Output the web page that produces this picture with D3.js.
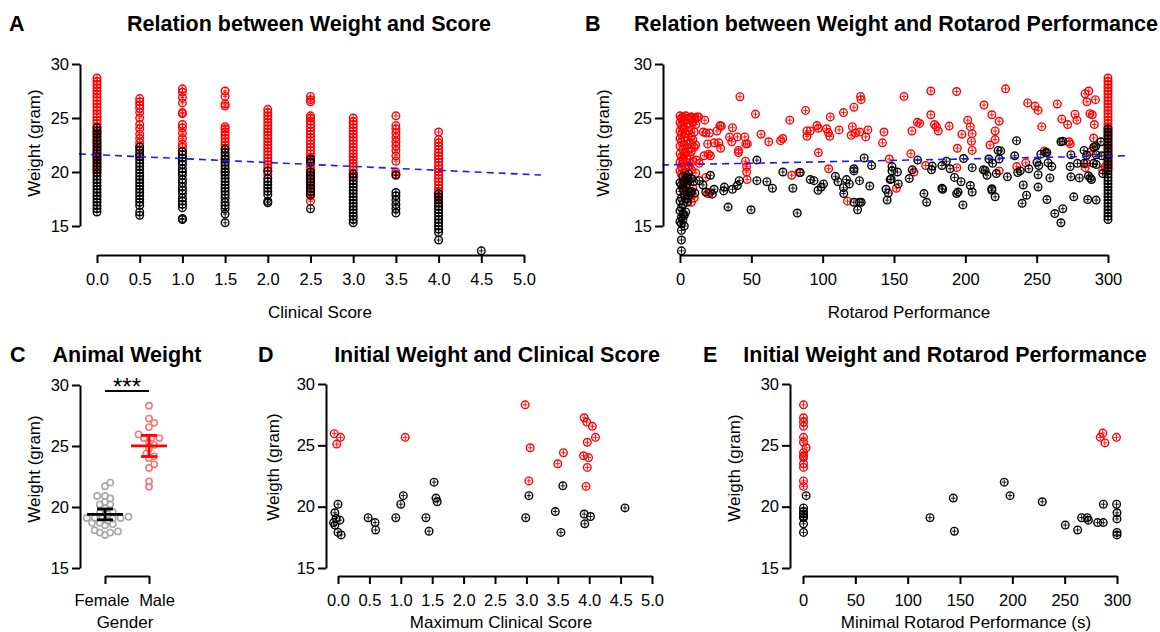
<!DOCTYPE html>
<html>
<head>
<meta charset="utf-8">
<script src="https://cdn.jsdelivr.net/npm/d3@7"></script>
<style>
  body { margin: 0; background: #fff; }
  svg { display: block; }
</style>
</head>
<body>
<div id="chart"></div>
<script>
// Datos
const FONT = '"Liberation Sans", Arial, Helvetica, sans-serif';
const RED = "#ff0000";
const BLACK = "#000000";

// Panel A: peso por puntuacion clinica (hembras negro, machos rojo)
const scoreLevels = [0, 0.5, 1, 1.5, 2, 2.5, 3, 3.5, 4, 4.5];
const scoreRedWeights = [
    [28.7, 28.4, 28.1, 27.8, 27.5, 27.2, 26.9, 26.6, 26.3, 26.0, 25.7, 25.4, 25.1, 24.8, 24.5, 24.2, 23.9, 23.6, 23.3, 23.0, 22.7, 22.4, 22.1, 21.8, 21.5, 21.2, 20.9, 20.6, 20.3, 20.0],
    [26.8, 26.5, 26.2, 25.9, 25.5, 25.0, 24.4, 24.0, 23.5, 23.1, 22.7, 22.4, 21.5],
    [27.7, 27.4, 26.9, 26.4, 25.5, 25.4, 24.4, 24.1, 23.6, 23.1, 22.6, 22.3, 21.9],
    [27.5, 27.0, 26.3, 26.1, 24.2, 24.0, 23.7, 23.4, 23.1, 22.8, 22.5, 22.2, 21.2, 20.0],
    [25.8, 25.5, 25.2, 24.9, 24.6, 24.3, 24.0, 23.7, 23.4, 23.1, 22.8, 22.5, 22.2, 21.9, 21.6, 21.3, 21.0, 20.7, 20.4, 20.1, 19.8],
    [27.0, 26.7, 26.5, 25.2, 25.0, 24.7, 24.4, 24.1, 23.8, 23.5, 23.2, 22.9, 22.6, 22.3, 22.0, 21.7, 21.4, 21.1, 20.8, 20.5, 20.2, 19.9, 19.6, 19.3, 19.0, 18.7, 18.4, 18.1, 17.8, 17.3],
    [25.0, 24.7, 24.4, 24.1, 23.8, 23.5, 23.2, 22.9, 22.6, 22.3, 22.0, 21.7, 21.4, 21.1, 20.8, 20.5, 20.2, 19.9, 19.6],
    [25.2, 24.3, 24.0, 23.6, 23.2, 22.8, 22.4, 22.0, 21.5, 21.0, 20.0, 19.8],
    [23.7, 23.0, 22.7, 22.4, 22.1, 21.8, 21.5, 21.2, 20.9, 20.6, 20.3, 20.0, 19.7, 19.4, 19.1, 18.8, 18.5, 18.2, 17.9, 17.6, 17.2, 16.8],
    []
];
const scoreBlackWeights = [
    [24.1, 23.8, 23.5, 23.2, 22.9, 22.6, 22.3, 22.0, 21.7, 21.4, 21.1, 20.8, 20.5, 20.2, 19.9, 19.6, 19.3, 19.0, 18.7, 18.4, 18.1, 17.8, 17.5, 17.2, 16.9, 16.6, 16.3],
    [22.3, 22.0, 21.7, 21.4, 21.1, 20.8, 20.5, 20.2, 19.9, 19.6, 19.3, 19.0, 18.7, 18.4, 18.1, 17.8, 17.5, 17.2, 16.9, 16.3, 16.0],
    [21.9, 21.6, 21.3, 21.0, 20.7, 20.3, 20.0, 19.7, 19.3, 19.0, 18.6, 18.3, 18.0, 17.6, 17.3, 17.0, 16.7, 15.7, 15.6],
    [22.1, 21.8, 21.5, 21.2, 20.9, 20.6, 20.3, 20.0, 19.7, 19.4, 19.1, 18.8, 18.5, 18.2, 17.9, 17.6, 17.2, 16.9, 16.6, 16.1, 15.3],
    [20.1, 19.4, 19.1, 18.8, 18.5, 18.2, 17.9, 17.3, 17.15],
    [21.2, 20.9, 20.0, 19.7, 19.4, 19.1, 18.8, 18.5, 18.2, 17.9, 16.6],
    [19.8, 19.5, 19.2, 18.9, 18.6, 18.3, 18.0, 17.7, 17.4, 17.1, 16.8, 16.5, 16.2, 15.9, 15.6, 15.3],
    [19.7, 18.1, 17.8, 17.4, 17.0, 16.6, 16.2],
    [18.0, 17.7, 17.4, 17.1, 16.8, 16.5, 16.2, 15.9, 15.6, 15.3, 15.0, 14.7, 14.4, 13.7],
    [12.7]
];
const scoreFit = [21.6, -0.361];        // intercepto, pendiente
const scoreFitRange = [-0.21, 5.2];

// Panel B: peso frente a rotarod [segundos, gramos]
const rotarodRed = [
    [0, 25.2], [1, 25.0], [2, 25.1], [3, 24.9], [4, 25.2], [6, 25.0], [8, 25.1], [10, 24.9], [12, 25.1],
    [0, 24.6], [1, 24.3], [2, 24.7], [3, 24.0], [5, 24.5], [7, 24.2], [9, 24.6], [11, 24.4],
    [0, 23.8], [1, 23.5], [2, 23.9], [4, 23.6], [6, 23.8], [8, 23.3], [10, 23.7],
    [0, 23.1], [1, 22.8], [3, 23.2], [5, 22.9], [7, 22.6], [9, 23.0], [11, 22.5],
    [0, 22.4], [2, 22.1], [3, 22.5], [4, 21.8], [6, 22.2], [8, 21.9], [10, 22.3],
    [0, 21.7], [1, 21.4], [2, 21.1], [3, 21.6], [5, 21.2], [7, 21.5], [9, 21.0],
    [0, 20.9], [1, 20.5], [2, 20.8], [4, 20.3], [6, 20.6], [8, 20.2],
    [0, 20.1], [1, 19.8], [3, 19.9], [5, 19.6],
    [2, 19.2], [4, 18.8], [3, 18.3], [6, 18.0], [5, 17.5], [8, 17.2], [7, 17.8], [2, 18.6], [9, 18.5], [10, 17.6],
    [7.8, 25.1], [13, 25.1], [10.4, 25.0], [17.4, 24.8], [16.3, 23.7], [18.1, 23.6], [20.7, 23.6], [23.9, 22.7],
    [19.4, 22.6], [20, 21.65], [16.9, 21.5], [21.3, 21.5], [25.9, 23.8], [28, 24.3], [29, 24.25], [28.5, 22.2],
    [27.2, 22.7], [34.7, 23.25], [36.3, 22.8], [36.8, 24.1], [40.2, 23.25], [45.4, 23.25], [41, 22.0], [41, 21.8],
    [46.1, 22.6], [47.2, 22.6], [45.9, 21.0], [46.7, 20.5], [46.7, 20.0], [47, 19.3], [13.5, 20.8], [11.7, 21.1],
    [6.5, 20.5], [11.1, 19.9], [18.1, 19.5], [19.4, 18.0], [21, 18.1],
    [42, 26.97], [52.9, 25.36], [56.8, 23.5], [62.2, 22.8], [70.5, 22.9], [72, 23.1], [77, 24.8], [78.3, 19.7],
    [83.5, 19.95], [88, 25.7], [89, 23.8], [89, 23.3], [91.3, 23.8], [96, 24.3], [97, 24.05], [97, 21.8],
    [102.7, 24.0], [104, 23.65], [105, 23.3], [104.2, 20.3], [105.3, 25.1], [111.5, 23.9], [114.6, 25.5], [117.4, 17.3],
    [120.8, 24.2], [120, 23.4], [121.9, 26.0], [122.9, 23.6], [126, 23.7], [126.5, 27.0], [127, 26.7], [130.2, 23.25],
    [131.7, 23.9], [142, 22.7], [143, 23.7], [146.7, 21.2], [151.7, 18.5], [157, 27.0], [161.8, 21.7], [162.6, 23.8],
    [164, 20.0], [166.4, 24.6], [168, 24.5], [172.2, 20.6], [175.8, 27.5], [175.8, 25.3], [178.4, 24.4], [179.7, 24.2],
    [181, 23.8], [188.7, 24.25], [193.9, 27.45], [194.4, 22.2], [194, 20.4], [197.6, 23.5], [201.7, 24.8], [203.5, 24.2],
    [204.3, 22.85], [204.8, 23.55], [204.8, 22.0], [213.1, 26.2], [218.6, 25.3], [217.3, 22.5], [220.9, 23.8], [220.9, 23.0],
    [223.7, 24.7], [223.7, 20.1], [228.2, 27.7], [236, 20.5], [242.4, 20.85], [243.7, 26.4], [248.9, 26.1], [251, 25.7],
    [253.6, 24.2], [255.4, 21.95], [264.5, 26.3], [267.6, 24.9], [271.7, 24.4], [272.7, 22.8], [273.5, 22.6], [276.9, 25.35],
    [278.2, 24.8], [283.9, 27.25], [286.5, 27.5], [285.2, 26.5], [287.3, 25.4], [289, 25.3], [291.2, 26.7], [290.4, 24.4],
    [289.9, 23.15], [289.9, 22.3], [288, 21.9], [284, 20.4], [285, 20.8], [296.3, 20.2], [298, 20.5]
];
const rotarodBlack = [
    [1, 12.7], [1, 13.7], [1, 14.6], [3, 15.0], [0, 15.4], [1, 15.8], [2, 16.1], [0, 16.4], [1, 16.7], [2, 17.0],
    [0, 17.3], [1, 17.6], [3, 17.9], [0, 18.2], [2, 18.5], [1, 18.8], [3, 19.1], [5, 19.5], [6, 19.8], [4, 16.3],
    [5, 17.2], [6, 17.8], [7, 18.1], [8, 18.2], [4, 18.6], [6, 19.2], [3, 16.0], [2, 15.6], [1, 15.2], [4, 17.5],
    [0, 19.0], [2, 19.6], [8, 19.4], [5, 18.9],
    [9.6, 19.1], [10.4, 18.05], [13.5, 19.2], [16.1, 18.8], [18.1, 18.15], [21.3, 19.7], [22.6, 17.95], [23.9, 18.4],
    [31.1, 18.6], [30.6, 18.25], [33.7, 16.75], [36.8, 18.4], [40.2, 18.75], [41.5, 19.2], [53.9, 21.1], [53.9, 19.2],
    [49.8, 16.5], [60.9, 19.1], [64.8, 18.5], [72.1, 20.0], [79.1, 18.5], [82.2, 16.2], [84.3, 19.95], [91.3, 19.3],
    [93.9, 19.2], [96.7, 18.3], [99, 18.6], [100.6, 18.9], [108.9, 19.6], [110.7, 19.1], [114.6, 18.55], [114.8, 18.0],
    [116.7, 19.3], [118.7, 18.9], [121.9, 17.2], [121.9, 20.3], [121.9, 20.1], [124.5, 16.5], [125.8, 17.2], [127, 17.2],
    [125.8, 19.2], [129.1, 21.3], [133, 18.7], [134.3, 20.6], [144.4, 18.4], [145.2, 17.4], [146, 18.05], [147.3, 19.3],
    [148, 19.35], [148.6, 20.5], [148.6, 20.1], [152.4, 20.0], [153, 18.9], [160.7, 19.4], [162.8, 20.2], [166.6, 21.1],
    [171, 18.0], [172.9, 17.2], [176.3, 20.2], [176.8, 20.55], [183.6, 20.6], [183.6, 18.5], [184.1, 18.4], [186.7, 21.0],
    [189.3, 20.3], [192.4, 19.5], [193.9, 18.0], [194.9, 18.15], [197, 19.1], [198.3, 16.95], [198.8, 21.25], [203.5, 18.75],
    [204.8, 18.15], [204.8, 20.4], [212.6, 20.2], [213.9, 20.15], [215.2, 19.7], [216.5, 21.2], [218.6, 18.45], [218.6, 18.3],
    [219.1, 20.8], [220.9, 17.7], [221.7, 19.85], [223, 22.0], [224.8, 21.95], [223.7, 21.2], [229.5, 19.55], [234.6, 21.5],
    [235.9, 22.9], [236.7, 19.95], [238.5, 20.1], [239.8, 17.1], [240.6, 18.8], [242.9, 17.85], [244.5, 20.3], [250.2, 20.9],
    [251.5, 20.6], [251, 19.75], [251, 18.6], [252.9, 21.65], [256.2, 21.8], [257.2, 21.8], [257.2, 17.45], [258, 20.85],
    [259.3, 19.45], [260.6, 20.5], [262.7, 16.15], [267, 15.3], [268.3, 16.6], [267, 22.8], [268.3, 22.85], [273.5, 20.5],
    [274, 19.55], [274, 21.6], [276, 17.7], [278.6, 20.8], [279.9, 19.45], [283.2, 20.8], [283.2, 22.0], [285, 21.55],
    [285.8, 17.45], [286.3, 19.65], [287.6, 19.45], [288.4, 19.3], [290.2, 22.3], [291.5, 22.4], [289.9, 20.8], [291.7, 20.7],
    [291.7, 17.4], [291.7, 21.6], [295, 22.8], [295.6, 21.5], [296.3, 19.85]
];
// columna de 300 s (maximo del rotarod)
const rotarodMax = 300;
const rotarodRedAtMax = [28.7, 28.4, 28.1, 27.8, 27.5, 27.2, 26.9, 26.6, 26.3, 26.0, 25.7, 25.4, 25.1, 24.8, 24.5, 24.2, 23.9, 23.6, 23.3, 23.0, 22.7, 22.4, 22.1, 21.8, 21.5, 21.2, 20.9, 20.6, 20.3];
const rotarodBlackAtMax = [24.0, 23.7, 23.4, 23.1, 22.8, 22.5, 22.2, 21.9, 21.6, 21.3, 21.0, 20.7, 20.4, 20.1, 19.8, 19.5, 19.2, 18.9, 18.6, 18.3, 18.0, 17.7, 17.4, 17.1, 16.8, 16.5, 16.2, 15.9, 15.6];
const rotarodFit = [20.68, 0.00265];
const rotarodFitRange = [-12.6, 312.5];

// Paneles C y D: peso inicial y puntuacion clinica maxima por animal
const femaleMaxScore = [-0.07, -0.05, 0.0, -0.03, 0.03, -0.05, 0.0, 0.05, 0.48, 0.59, 0.6, 0.92, 1.0, 1.04, 1.4, 1.45, 1.53, 1.56, 1.58, 2.99, 3.04, 3.46, 3.55, 3.58, 3.92, 3.93, 4.02, 4.57];
const femaleWeight = [18.7, 19.5, 20.2, 19.05, 18.9, 18.5, 17.9, 17.7, 19.1, 18.7, 18.1, 19.1, 20.2, 20.9, 19.1, 18.0, 22.0, 20.7, 20.4, 19.1, 20.9, 19.6, 17.9, 21.7, 19.4, 18.6, 19.2, 19.9];
const maleMaxScore = [-0.06, 0.04, -0.02, 1.07, 2.98, 3.06, 3.04, 3.5, 3.59, 3.92, 3.96, 4.05, 4.1, 3.97, 3.91, 3.99, 3.97, 3.95];
const maleWeight = [25.95, 25.65, 25.1, 25.65, 28.3, 24.8, 22.1, 23.5, 24.4, 27.25, 26.9, 26.55, 25.65, 25.25, 24.15, 24.0, 23.2, 21.65];
const genders = ["Female", "Male"];
const tCritical = [2.052, 2.110];   // IC 95 %, gl = n - 1
const significance = "***";
const significanceLevel = 29.5;

// Panel E: peso inicial y rotarod minimo
const femaleMinRotarod = [0.5, 0.5, 0.5, 0.5, 0.5, 0.5, 0.5, 3, 121.3, 143.6, 144.6, 192.3, 197.8, 228.6, 250.6, 262.4, 266.2, 271.6, 272.6, 281.5, 286.9, 287, 299.6, 300, 300, 300, 300];
const femaleWeightE = [19.9, 19.6, 19.4, 19.2, 19.1, 18.6, 17.9, 20.9, 19.1, 20.7, 18.0, 22.0, 20.9, 20.4, 18.5, 18.1, 19.1, 19.1, 18.9, 18.7, 18.7, 20.2, 20.2, 19.5, 19.0, 17.9, 17.7];
const maleMinRotarod = [0.5, 0.5, 0.5, 0.5, 0.5, 0.5, 3, 0.5, 0.5, 0.5, 0.5, 0.5, 0.5, 0.5, 284, 286.5, 288.5, 299.5];
const maleWeightE = [28.3, 27.25, 26.9, 26.55, 25.65, 25.25, 24.8, 24.4, 24.15, 24.0, 23.5, 23.2, 22.1, 21.65, 25.65, 26.0, 25.2, 25.65];

const weightTicks = [15, 20, 25, 30];
const scoreTicks = [0, 0.5, 1, 1.5, 2, 2.5, 3, 3.5, 4, 4.5, 5];
const rotarodTicks = [0, 50, 100, 150, 200, 250, 300];

//////////////////////////////////////////////////////////////////////////////////
const svg = d3.select("#chart").append("svg")
    .attr("width", 1160)
    .attr("height", 632)
    .style("font-family", FONT);

// Marcador: circulo con cruz interior
function drawMarkers(g, points, x, y, color) {
    const m = g.append("g").selectAll("g")
        .data(points)
        .enter().append("g")
        .attr("transform", d => `translate(${x(d[0])},${y(d[1])})`);
    m.append("circle")
        .attr("r", 3.8)
        .attr("fill", "none")
        .attr("stroke", color)
        .attr("stroke-width", 1.4);
    m.append("path")
        .attr("d", "M0,-2.8V2.8M-2.3,0H2.3")
        .attr("stroke", color)
        .attr("stroke-width", 0.9);
}

function styleAxis(g) {
    g.attr("font-family", FONT).attr("font-size", 16.5);
    g.select(".domain").attr("stroke", BLACK).attr("stroke-width", 2);
    g.selectAll(".tick line").attr("stroke", BLACK).attr("stroke-width", 2);
    g.selectAll(".tick text").attr("fill", BLACK);
}

function yAxis(g, y, xPos) {
    g.append("g")
        .attr("transform", `translate(${xPos},0)`)
        .call(d3.axisLeft(y).tickValues(weightTicks).tickSize(8).tickSizeOuter(0).tickPadding(3))
        .call(styleAxis);
}

function xAxis(g, x, yPos, ticks, fmt) {
    g.append("g")
        .attr("transform", `translate(0,${yPos})`)
        .call(d3.axisBottom(x).tickValues(ticks).tickFormat(fmt).tickSize(8).tickSizeOuter(0).tickPadding(10))
        .call(styleAxis);
}

function labels(letter, letterX, title, titleX, baseY) {
    svg.append("text").attr("x", letterX).attr("y", baseY)
        .attr("font-weight", "bold").attr("font-size", 21.5).text(letter);
    svg.append("text").attr("x", titleX).attr("y", baseY).attr("text-anchor", "middle")
        .attr("font-weight", "bold").attr("font-size", 21.5).text(title);
}

function yTitle(text, x, y) {
    svg.append("text")
        .attr("transform", `translate(${x},${y}) rotate(-90)`)
        .attr("text-anchor", "middle")
        .attr("font-size", 17)
        .text(text);
}

function xTitle(text, x, y) {
    svg.append("text").attr("x", x).attr("y", y)
        .attr("text-anchor", "middle").attr("font-size", 17).text(text);
}

function fitLine(g, x, y, fit, range) {
    const pts = range.map(v => [v, fit[0] + fit[1] * v]);
    g.append("path")
        .attr("d", d3.line().x(d => x(d[0])).y(d => y(d[1]))(pts))
        .attr("fill", "none")
        .attr("stroke", "#1a1aff")
        .attr("stroke-width", 1.6)
        .attr("stroke-dasharray", "7,5");
}

//////////////////////////////////////////////////////////////////////////////////
// Panel A
function panelA() {
    const g = svg.append("g");
    const x = d3.scaleLinear().domain([0, 5]).range([97, 524]);
    const y = d3.scaleLinear().domain([15, 30]).range([226, 64]);
    const red = scoreLevels.flatMap((s, i) => scoreRedWeights[i].map(w => [s, w]));
    const black = scoreLevels.flatMap((s, i) => scoreBlackWeights[i].map(w => [s, w]));
    drawMarkers(g, red, x, y, RED);
    drawMarkers(g, black, x, y, BLACK);
    fitLine(g, x, y, scoreFit, scoreFitRange);
    yAxis(g, y, 80);
    xAxis(g, x, 255, scoreTicks, d3.format(".1f"));
    labels("A", 9, "Relation between Weight and Score", 309, 31);
    yTitle("Weight (gram)", 40, 143);
    xTitle("Clinical Score", 320, 318);
}

// Panel B
function panelB() {
    const g = svg.append("g");
    const x = d3.scaleLinear().domain([0, 300]).range([680, 1108]);
    const y = d3.scaleLinear().domain([15, 30]).range([226, 64]);
    drawMarkers(g, rotarodRed.concat(rotarodRedAtMax.map(w => [rotarodMax, w])), x, y, RED);
    drawMarkers(g, rotarodBlack.concat(rotarodBlackAtMax.map(w => [rotarodMax, w])), x, y, BLACK);
    fitLine(g, x, y, rotarodFit, rotarodFitRange);
    yAxis(g, y, 663);
    xAxis(g, x, 255, rotarodTicks, d3.format("d"));
    labels("B", 585, "Relation between Weight and Rotarod Performance", 896, 31);
    yTitle("Weight (gram)", 609, 143);
    xTitle("Rotarod Performance", 909, 318);
}

// Reparto horizontal tipo enjambre para el panel C
function swarmOffsets(values, y) {
    const placed = [];
    const offsets = new Array(values.length).fill(0);
    const order = values.map((v, i) => i).sort((a, b) => values[a] - values[b]);
    order.forEach(i => {
        const py = y(values[i]);
        for (let k = 0; k < 30; k++) {
            const dx = (k % 2 ? 1 : -1) * Math.ceil(k / 2) * 2.6;
            if (placed.every(p => Math.hypot(p[0] - dx, p[1] - py) >= 5.4)) {
                offsets[i] = dx;
                placed.push([dx, py]);
                break;
            }
        }
    });
    return offsets;
}

// Panel C
function panelC() {
    const g = svg.append("g");
    const x = d3.scalePoint().domain(genders).range([105, 149]);
    const y = d3.scaleLinear().domain([15, 30]).range([568, 385]);
    const groups = [femaleWeight, maleWeight];
    const dotColors = ["#a8a8a8", "#f27a7a"];
    const meanColors = [BLACK, RED];

    groups.forEach((vals, gi) => {
        const cx = x(genders[gi]);
        const off = swarmOffsets(vals, y);
        g.append("g").selectAll("circle")
            .data(vals)
            .enter().append("circle")
            .attr("cx", (d, i) => cx + off[i])
            .attr("cy", d => y(d))
            .attr("r", 3.1)
            .attr("fill", "none")
            .attr("stroke", dotColors[gi])
            .attr("stroke-width", 1.6);

        // media e IC 95 %
        const mean = d3.mean(vals);
        const ci = tCritical[gi] * d3.deviation(vals) / Math.sqrt(vals.length);
        const c = meanColors[gi];
        const eg = g.append("g").attr("stroke", c).attr("stroke-width", 2.8).attr("fill", "none");
        eg.append("line").attr("x1", cx - 18).attr("x2", cx + 18).attr("y1", y(mean)).attr("y2", y(mean));
        eg.append("line").attr("x1", cx).attr("x2", cx).attr("y1", y(mean - ci)).attr("y2", y(mean + ci));
        eg.append("line").attr("x1", cx - 8).attr("x2", cx + 8).attr("y1", y(mean - ci)).attr("y2", y(mean - ci));
        eg.append("line").attr("x1", cx - 8).attr("x2", cx + 8).attr("y1", y(mean + ci)).attr("y2", y(mean + ci));
    });

    // barra de significancia
    g.append("line")
        .attr("x1", x(genders[0])).attr("x2", x(genders[1]))
        .attr("y1", y(significanceLevel)).attr("y2", y(significanceLevel))
        .attr("stroke", BLACK).attr("stroke-width", 2);
    g.append("text")
        .attr("x", (x(genders[0]) + x(genders[1])) / 2)
        .attr("y", y(significanceLevel) + 4)
        .attr("text-anchor", "middle")
        .attr("font-size", 24)
        .text(significance);

    yAxis(g, y, 80);
    const ax = g.append("g")
        .attr("transform", "translate(0,576)")
        .call(d3.axisBottom(x).tickSize(8).tickSizeOuter(0).tickPadding(10))
        .call(styleAxis);
    ax.selectAll(".tick text").attr("dx", d => d === "Female" ? -3.5 : 7.5);

    labels("C", 10, "Animal Weight", 127, 362);
    yTitle("Weight (gram)", 40, 469);
    xTitle("Gender", 125, 628);
}

// Panel D
function panelD() {
    const g = svg.append("g");
    const x = d3.scaleLinear().domain([0, 5]).range([338, 652]);
    const y = d3.scaleLinear().domain([15, 30]).range([568, 384]);
    drawMarkers(g, maleMaxScore.map((s, i) => [s, maleWeight[i]]), x, y, RED);
    drawMarkers(g, femaleMaxScore.map((s, i) => [s, femaleWeight[i]]), x, y, BLACK);
    yAxis(g, y, 326);
    xAxis(g, x, 576, scoreTicks, d3.format(".1f"));
    labels("D", 258, "Initial Weight and Clinical Score", 497, 362);
    yTitle("Weigth (gram)", 279, 467);
    xTitle("Maximum Clinical Score", 501, 628);
}

// Panel E
function panelE() {
    const g = svg.append("g");
    const x = d3.scaleLinear().domain([0, 300]).range([803, 1117]);
    const y = d3.scaleLinear().domain([15, 30]).range([568, 384]);
    drawMarkers(g, maleMinRotarod.map((s, i) => [s, maleWeightE[i]]), x, y, RED);
    drawMarkers(g, femaleMinRotarod.map((s, i) => [s, femaleWeightE[i]]), x, y, BLACK);
    yAxis(g, y, 790);
    xAxis(g, x, 576, rotarodTicks, d3.format("d"));
    labels("E", 703, "Initial Weight and Rotarod Performance", 945, 362);
    yTitle("Weigth (gram)", 740, 468);
    xTitle("Minimal Rotarod Performance (s)", 966, 628);
}

panelA();
panelB();
panelC();
panelD();
panelE();
</script>
</body>
</html>
